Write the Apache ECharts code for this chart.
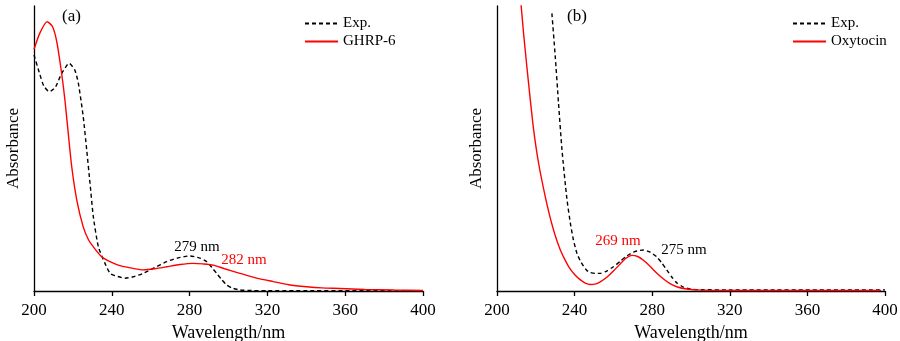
<!DOCTYPE html>
<html>
<head>
<meta charset="utf-8">
<script src="https://cdn.jsdelivr.net/npm/echarts@6/dist/echarts.min.js"></script>
<style>html,body{margin:0;padding:0;background:#fff}#c{width:900px;height:341px}</style>
</head>
<body>
<div id="c"></div>
<script>
var xTicks = [200, 240, 280, 320, 360, 400];

// Panel (a): [wavelength nm, absorbance (relative)]
var expA = [[200,82.8],[203,76],[205,72],[207.9,69.9],[211,71.5],[214,76],[218.1,79.9],[221,77.5],[222.8,72.9],[225.3,61.2],[227.1,49.5],[228.8,37.8],[230.5,26.1],[233.1,15.5],[236.5,9.7],[239.1,6.2],[241.6,5.4],[246.8,4.5],[251,5],[256.2,6.2],[262,8.2],[268.2,10.3],[274,11.6],[280.2,12.3],[285,11.6],[288.8,10.3],[291.5,8.2],[293.9,6.2],[296.5,4],[299.1,2.1],[302,1],[305.9,0.35],[312,0.15],[320,0.1],[400,0.1]];
var ghrp6 = [[200,84.8],[203,90.5],[206.8,94.5],[209.5,92.8],[211.7,87.5],[214.2,76.4],[215.9,67.0],[217.6,55.4],[219.4,43.6],[222,31.9],[225.3,22.5],[228,18],[230.5,15.5],[234.8,12.0],[238,10.7],[243.3,9.1],[249,8.2],[256.2,7.4],[262,7.8],[268.2,8.5],[275,9.3],[281.9,9.7],[287,9.5],[292.2,9.1],[298,7.8],[305.9,6.2],[314,4.6],[323,3.3],[331,2.2],[340.2,1.5],[348,1.1],[357.3,0.9],[370,0.55],[385,0.35],[400,0.2]];

// Panel (b)
var expB = [[228.3,97.4],[230,82.5],[231.7,66],[233.5,49.5],[236,32.5],[238,23],[239.4,17.9],[241.2,13.2],[243,10.5],[244.6,8.7],[246.3,7.2],[248,6.5],[250.5,6.2],[253.2,6.2],[256.5,7],[260,8.5],[263.5,10.4],[266.9,12.3],[271,13.8],[275.5,14.4],[279,13.6],[282.3,12],[285,9.8],[287.5,7.4],[290,5],[292.6,2.9],[296,1.4],[299.5,0.7],[305,0.45],[320,0.4],[400,0.4]];
var oxytocin = [[211,108],[212.4,100.4],[213.7,90.4],[215.4,78.7],[217.1,67.5],[218.8,57],[221.4,45],[224.9,33],[227.5,25.5],[230,19.5],[232.6,14.5],[235,11],[237,8.5],[240,5.8],[243,3.9],[245.5,2.8],[248,2.3],[250.5,2.4],[253,3.1],[256.6,4.8],[260,7],[263.5,9.5],[266.5,11.5],[269.5,12.5],[272.5,12.1],[275.5,10.8],[279,8.6],[282.3,6.3],[286,4.1],[289.2,2.6],[293,1.4],[297.8,0.7],[305,0.3],[320,0.2],[398,0.2]];

var labelsA = {panel: '(a)', exp: 'Exp.', calc: 'GHRP-6', expPeak: '279 nm', calcPeak: '282 nm'};
var labelsB = {panel: '(b)', exp: 'Exp.', calc: 'Oxytocin', expPeak: '275 nm', calcPeak: '269 nm'};

var FONT = '"Liberation Serif", "Times New Roman", serif';
var chart = echarts.init(document.getElementById('c'), null, {renderer: 'canvas'});

function xAxisDef(gi) {
  return {
    type: 'value', gridIndex: gi, min: 200, max: 400, interval: 40,
    name: 'Wavelength/nm', nameLocation: 'middle', nameGap: 32,
    nameTextStyle: {fontFamily: FONT, fontSize: 18, color: '#000'},
    axisLine: {show: true, onZero: false, lineStyle: {color: '#000', width: 1.3}},
    axisTick: {show: true, inside: false, length: 5, lineStyle: {color: '#000', width: 1.3}},
    axisLabel: {fontFamily: FONT, fontSize: 17, color: '#000', margin: 11,
      formatter: function (v) { return xTicks.indexOf(v) >= 0 ? String(v) : ''; }},
    splitLine: {show: false}
  };
}
function yAxisDef(gi) {
  return {
    type: 'value', gridIndex: gi, min: 0, max: 100,
    name: 'Absorbance', nameLocation: 'middle', nameGap: 12, nameRotate: 90,
    nameTextStyle: {fontFamily: FONT, fontSize: 17, color: '#000'},
    axisLine: {show: true, lineStyle: {color: '#000', width: 1.3}},
    axisTick: {show: false}, axisLabel: {show: false}, splitLine: {show: false}
  };
}
function lineSeries(name, data, gi, color, type) {
  return {
    name: name, type: 'line', xAxisIndex: gi, yAxisIndex: gi, data: data,
    showSymbol: false, symbol: 'none', smooth: 0.2,
    clip: true, animation: false,
    lineStyle: {color: color, width: 1.4, type: type},
    itemStyle: {color: color}
  };
}
function legendDef(left, names) {
  return {left: left, top: 11, orient: 'vertical', itemWidth: 33, itemHeight: 12, itemGap: 3,
    itemStyle: {opacity: 0},
    textStyle: {fontFamily: FONT, fontSize: 15, color: '#000'},
    data: names};
}

var option = {
  backgroundColor: '#fff',
  animation: false,
  grid: [
    {left: 34, right: 477, top: 6, bottom: 50, containLabel: false, outerBoundsMode: 'none'},
    {left: 497, right: 15, top: 6, bottom: 50, containLabel: false, outerBoundsMode: 'none'}
  ],
  xAxis: [xAxisDef(0), xAxisDef(1)],
  yAxis: [yAxisDef(0), yAxisDef(1)],
  legend: [
    legendDef(299, [labelsA.exp, labelsA.calc]),
    legendDef(787, [labelsB.exp + ' ', labelsB.calc])
  ],
  series: [
    lineSeries(labelsA.exp, expA, 0, '#000', [4, 3]),
    lineSeries(labelsA.calc, ghrp6, 0, '#ff0000', 'solid'),
    lineSeries(labelsB.exp + ' ', expB, 1, '#000', [4, 3]),
    lineSeries(labelsB.calc, oxytocin, 1, '#ff0000', 'solid')
  ],
  graphic: [
    {type: 'text', left: 62, top: 8, style: {text: labelsA.panel, font: '17px ' + FONT, fill: '#000'}},
    {type: 'text', left: 567, top: 8, style: {text: labelsB.panel, font: '17px ' + FONT, fill: '#000'}},
    {type: 'text', x: 197, y: 247, style: {text: labelsA.expPeak, font: '15px ' + FONT, fill: '#000', align: 'center', verticalAlign: 'middle'}},
    {type: 'text', x: 244, y: 260, style: {text: labelsA.calcPeak, font: '15px ' + FONT, fill: '#ff0000', align: 'center', verticalAlign: 'middle'}},
    {type: 'text', x: 618, y: 241, style: {text: labelsB.calcPeak, font: '15px ' + FONT, fill: '#ff0000', align: 'center', verticalAlign: 'middle'}},
    {type: 'text', x: 684, y: 250, style: {text: labelsB.expPeak, font: '15px ' + FONT, fill: '#000', align: 'center', verticalAlign: 'middle'}}
  ]
};
chart.setOption(option);
</script>
</body>
</html>
